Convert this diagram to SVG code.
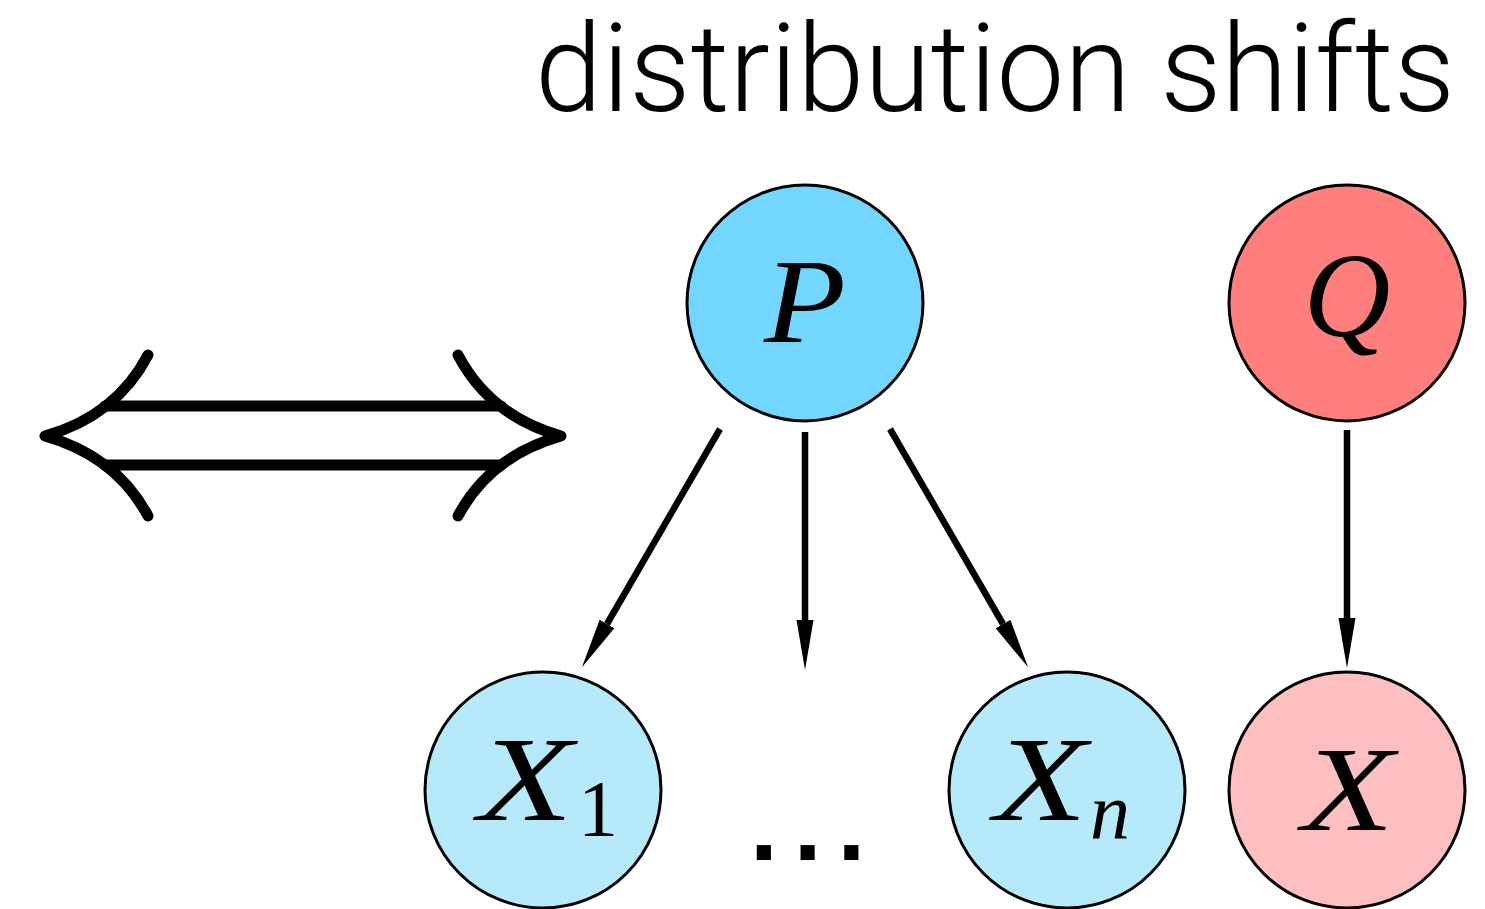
<svg xmlns="http://www.w3.org/2000/svg" width="1485" height="909" viewBox="0 0 1485 909">
<style>
.node{stroke:#000;stroke-width:3}
.math{font-family:"Liberation Serif","DejaVu Serif",serif;font-style:italic;fill:#000}
.sub{font-family:"Liberation Serif","DejaVu Serif",serif;fill:#000}
.edge{stroke:#000;stroke-width:6.5;fill:none;marker-end:url(#ah)}
.dbl{stroke:#000;stroke-width:11;fill:none;stroke-linecap:round;stroke-linejoin:round}
</style>
<defs>
<marker id="ah" markerUnits="userSpaceOnUse" markerWidth="52" markerHeight="20" refX="0" refY="9" orient="auto" viewBox="0 0 52 18">
<path d="M0,0.5 L50,9 L0,17.5 z" fill="#000"/>
</marker>
</defs>
<rect width="1485" height="909" fill="#fff"/>
<text x="535" y="111" font-family="Roboto, Liberation Sans, Arial, sans-serif" font-weight="300" font-size="122" textLength="920" lengthAdjust="spacingAndGlyphs" fill="#000">distribution shifts</text>
<g id="double-arrow">
<line class="dbl" x1="105" y1="406" x2="501" y2="406" stroke-linecap="butt"/>
<line class="dbl" x1="105" y1="465" x2="501" y2="465" stroke-linecap="butt"/>
<path class="dbl" d="M148,355 Q116,416 45,436 Q116,456 148,516"/>
<path class="dbl" d="M458,355 Q490,416 561,436 Q490,456 458,516"/>
</g>
<g id="connectors">
<line class="edge" x1="720" y1="429" x2="607" y2="624"/>
<line class="edge" x1="805" y1="432" x2="805" y2="620"/>
<line class="edge" x1="890" y1="429" x2="1003" y2="624"/>
<line class="edge" x1="1347" y1="430" x2="1347" y2="618"/>
</g>
<g id="node-P">
<circle class="node" cx="805" cy="303" r="118" fill="#73D6FE"/>
<text class="math" x="764" y="342" font-size="120" textLength="82" lengthAdjust="spacingAndGlyphs">P</text>
</g>
<g id="node-Q">
<circle class="node" cx="1347" cy="303" r="118" fill="#FF7F7F"/>
<text class="math" x="1347" y="336" font-size="120" text-anchor="middle">Q</text>
</g>
<g id="node-X1">
<circle class="node" cx="543" cy="790" r="118" fill="#B6EAFB"/>
<text class="math" x="478" y="820" font-size="120" textLength="95" lengthAdjust="spacingAndGlyphs">X</text>
<text class="sub" x="578" y="836" font-size="80">1</text>
</g>
<g id="dots">
<text x="750" y="860" font-family="Liberation Sans, Arial, sans-serif" font-weight="bold" font-size="100" letter-spacing="16" fill="#000">...</text>
</g>
<g id="node-Xn">
<circle class="node" cx="1067" cy="790" r="118" fill="#B6EAFB"/>
<text class="math" x="994" y="820" font-size="120" textLength="93" lengthAdjust="spacingAndGlyphs">X</text>
<text class="math" x="1090" y="838" font-size="80">n</text>
</g>
<g id="node-X">
<circle class="node" cx="1347" cy="790" r="118" fill="#FEBFC0"/>
<text class="math" x="1302" y="830" font-size="120" textLength="92" lengthAdjust="spacingAndGlyphs">X</text>
</g>
</svg>
